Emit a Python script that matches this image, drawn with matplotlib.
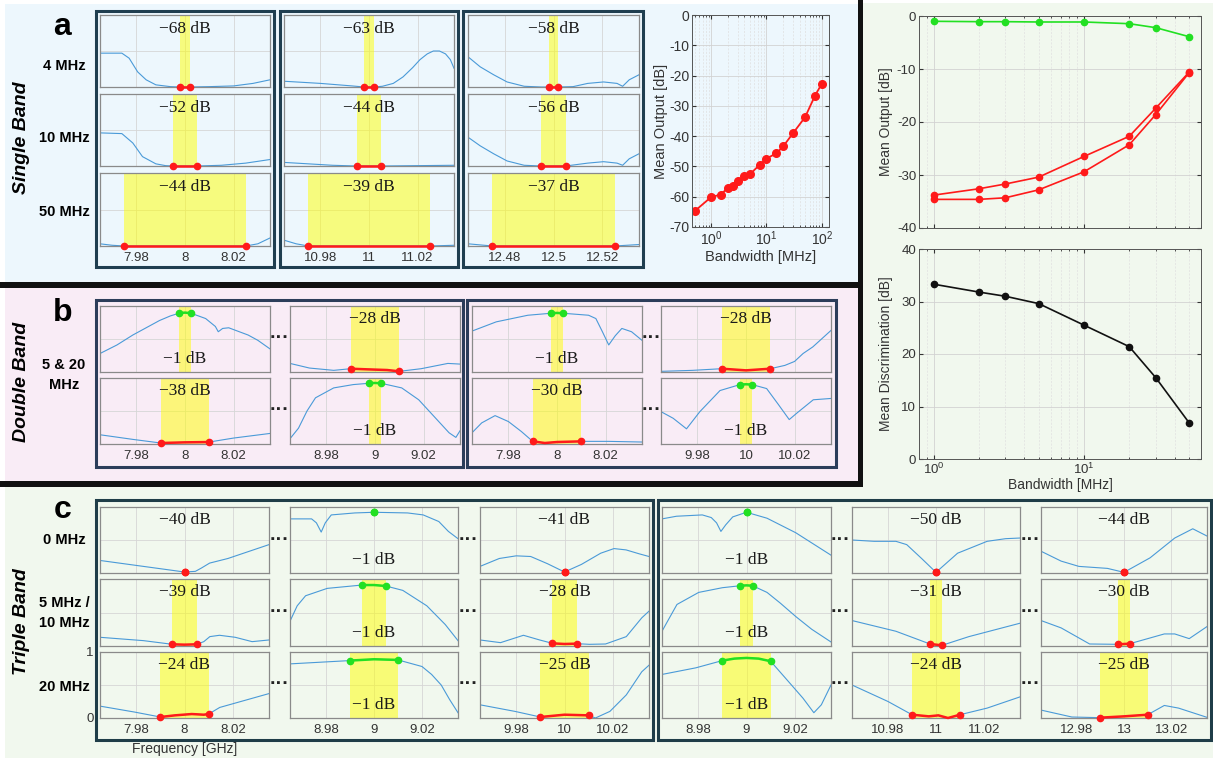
import numpy as np
import matplotlib
matplotlib.use("Agg")
import matplotlib.pyplot as plt
from matplotlib.patches import Rectangle

plt.rcParams["font.family"] = ["Liberation Sans", "DejaVu Sans"]
plt.rcParams["axes.unicode_minus"] = False

# ------------------------------------------------------------------
# Filter responses: (offset from band centre [MHz], normalised output)
# ------------------------------------------------------------------
# (a) single band
a_8_bw4 = ([-35, -26, -23, -19.5, -16, -12, -6, -2, 2, 10, 20, 28, 35],
           [0.47, 0.47, 0.40, 0.21, 0.10, 0.03, 0.005, 0, 0, 0.005, 0.015, 0.05, 0.10])
a_8_bw10 = ([-35, -26, -21.5, -17.5, -12, -8, -5, 5, 15, 25, 35],
            [0.46, 0.45, 0.32, 0.13, 0.03, 0.005, 0, 0, 0.01, 0.04, 0.09])
a_8_bw50 = ([-35, -30, -25, 0, 25, 30, 35],
            [0.03, 0.01, 0, 0, 0, 0.03, 0.11])
a_11_bw4 = ([-35, -20, -7, -2, 2, 5.5, 10, 14, 18, 21, 24, 26.5, 29, 31.5, 33.5, 35],
            [0.08, 0.05, 0.015, 0, 0, 0.01, 0.05, 0.14, 0.27, 0.38, 0.46, 0.50, 0.50, 0.46, 0.38, 0.26])
a_11_bw10 = ([-35, -25, -15, -5, 5, 20, 35],
             [0.05, 0.03, 0.01, 0, 0, 0.005, 0.01])
a_11_bw50 = ([-35, -30, -25, 25, 35],
             [0.08, 0.03, 0, 0, 0.01])
a_125_bw4 = ([-35, -30, -24.5, -19, -12, -5, -2, 2, 8, 14, 20.5, 26, 28.3, 31, 35],
             [0.42, 0.28, 0.17, 0.07, 0.01, 0, 0, 0, 0.005, 0.05, 0.07, 0.05, 0.01, 0.10, 0.17])
a_125_bw10 = ([-35, -30, -24.5, -19, -12, -5, 5, 14, 20.5, 26, 28.3, 31, 35],
              [0.40, 0.28, 0.17, 0.07, 0.01, 0, 0, 0.04, 0.06, 0.04, 0.01, 0.10, 0.17])
a_125_bw50 = ([-35, -25, 25, 35],
              [0.03, 0, 0, 0.02])

# (b) double band
b1_8_top = ([-35, -28, -21.5, -15, -10.5, -6, -2.5, 0, 2.5, 8.5, 12.5, 13.7, 15.5, 18, 26, 30, 35],
            [0.28, 0.41, 0.56, 0.69, 0.78, 0.85, 0.89, 0.90, 0.89, 0.81, 0.69, 0.61, 0.66, 0.67, 0.56, 0.48, 0.35])
b1_9_top = ([-35, -27, -17, -10, -3, 5, 10, 19, 30, 35],
            [0.13, 0.06, 0.025, 0.05, 0.04, 0.03, 0.01, 0.05, 0.13, 0.12])
b1_8_bot = ([-35, -21.5, -10, 0, 10, 20, 35],
            [0.14, 0.07, 0.015, 0.025, 0.03, 0.09, 0.16])
b1_9_bot = ([-35, -31.5, -28, -24.5, -17, -9, -2.5, 0, 2.5, 11, 18, 25, 30.5, 33.3, 35],
            [0.08, 0.24, 0.50, 0.70, 0.85, 0.90, 0.92, 0.925, 0.92, 0.85, 0.67, 0.39, 0.17, 0.10, 0.20])
b2_8_top = ([-35, -25, -12, -2.5, 0, 2.5, 13, 16, 18.7, 21.3, 24, 26.7, 30.7, 35],
            [0.62, 0.76, 0.86, 0.89, 0.895, 0.89, 0.86, 0.81, 0.61, 0.41, 0.55, 0.66, 0.61, 0.48])
b2_10_top = ([-35, -22, -10, 0, 10, 16, 20, 23.5, 27.5, 35],
             [0.01, 0.025, 0.05, 0.025, 0.05, 0.10, 0.16, 0.28, 0.38, 0.63])
b2_8_bot = ([-35, -31, -25.5, -20, -14.7, -10, -5, 0, 10, 21, 35],
            [0.17, 0.32, 0.43, 0.34, 0.19, 0.04, 0.015, 0.03, 0.04, 0.04, 0.03])
b2_10_bot = ([-35, -30, -24.5, -19, -10.7, -2.5, 0, 2.5, 8.5, 13.3, 17.8, 21, 27.7, 35],
             [0.49, 0.39, 0.23, 0.49, 0.81, 0.90, 0.905, 0.90, 0.84, 0.60, 0.37, 0.47, 0.67, 0.69])

# (c) triple band, first group (8 / 9 / 10 GHz)
c1_8_r1 = ([-35, -17, 0, 4.5, 7, 10.4, 18, 35],
           [0.19, 0.10, 0.015, 0.025, 0.075, 0.15, 0.22, 0.43])
c1_9_r1 = ([-35, -26, -24, -22, -20.3, -17.8, -8, 0, 14, 20.5, 27, 31, 35],
           [0.82, 0.82, 0.76, 0.62, 0.76, 0.88, 0.91, 0.92, 0.91, 0.88, 0.78, 0.63, 0.52])
c1_10_r1 = ([-35, -27, -20, -14, -7, 0, 7, 15, 20.5, 25.5, 31, 35],
            [0.10, 0.22, 0.26, 0.25, 0.14, 0.015, 0.13, 0.30, 0.37, 0.35, 0.29, 0.25])
c1_8_r2 = ([-35, -17, -5, 0, 5, 8, 10.5, 14.5, 21, 28, 35],
           [0.13, 0.08, 0.025, 0.02, 0.025, 0.065, 0.14, 0.16, 0.13, 0.065, 0.09])
c1_9_r2 = ([-35, -32, -28.5, -19.5, -5, 0, 5, 12, 22, 29.7, 35],
           [0.37, 0.60, 0.75, 0.86, 0.91, 0.91, 0.895, 0.83, 0.60, 0.32, 0.08])
c1_10_r2 = ([-35, -26.5, -17, -10.3, -5, 0, 5, 10.3, 17, 25.6, 32, 35],
            [0.09, 0.05, 0.16, 0.09, 0.04, 0.03, 0.035, 0.025, 0.03, 0.14, 0.42, 0.52])
c1_8_r3 = ([-35, -20.7, -10, -4, 3, 8, 10, 14.6, 35],
           [0.18, 0.09, 0.015, 0.04, 0.06, 0.05, 0.06, 0.16, 0.37])
c1_9_r3 = ([-35, -10, 0, 10, 20, 24, 28, 31.5, 35],
           [0.82, 0.87, 0.89, 0.88, 0.78, 0.66, 0.50, 0.28, 0.08])
c1_10_r3 = ([-35, -20.5, -10, 0, 10, 12.8, 18.8, 25.6, 32, 35],
            [0.20, 0.10, 0.015, 0.05, 0.04, 0.0, 0.10, 0.35, 0.70, 0.80])

# (c) triple band, second group (9 / 11 / 13 GHz)
c2_9_r1 = ([-35, -29, -18.3, -14.6, -12.4, -10.6, -8.6, -5.7, 0, 8.5, 20.4, 35],
           [0.82, 0.86, 0.88, 0.84, 0.76, 0.63, 0.73, 0.85, 0.92, 0.83, 0.61, 0.27])
c2_11_r1 = ([-35, -25.8, -16.7, -12.2, -6, 0, 9, 21.3, 29, 35],
            [0.50, 0.48, 0.48, 0.43, 0.22, 0.01, 0.30, 0.48, 0.52, 0.53])
c2_13_r1 = ([-35, -26.5, -19, -7, 0, 11, 21.4, 29, 35],
            [0.33, 0.18, 0.10, 0.07, 0.01, 0.23, 0.53, 0.67, 0.56])
c2_9_r2 = ([-35, -33, -28.8, -19.8, -10, -2.5, 0, 2.5, 8.5, 14, 20.4, 27, 35],
           [0.22, 0.35, 0.62, 0.80, 0.87, 0.90, 0.905, 0.90, 0.80, 0.64, 0.44, 0.25, 0.06])
c2_11_r2 = ([-35, -16.7, -2.5, 2.5, 13.7, 35],
            [0.38, 0.22, 0.03, 0.01, 0.14, 0.34])
c2_13_r2 = ([-35, -26.5, -14.5, -2.5, 2.5, 11, 17, 21.4, 27.5, 35],
            [0.38, 0.27, 0.03, 0.025, 0.035, 0.12, 0.18, 0.18, 0.11, 0.29])
c2_9_r3 = ([-35, -21, -10, -5, 0, 5, 10, 16, 23.4, 27.9, 31, 35],
           [0.66, 0.76, 0.87, 0.90, 0.91, 0.90, 0.86, 0.61, 0.30, 0.08, 0.20, 0.50])
c2_11_r3 = ([-35, -20, -10, -3, 1, 5, 10, 21.3, 35],
            [0.50, 0.25, 0.05, 0.025, 0.04, 0.0, 0.05, 0.15, 0.32])
c2_13_r3 = ([-35, -22, -10, 0, 10, 17, 23, 35],
            [0.12, 0.015, 0.005, 0.025, 0.05, 0.19, 0.15, 0.01])

# Band centres [GHz], window widths [MHz] and level labels
a_centers = [8, 11, 12.5]
a_bandwidths = [4, 10, 50]
a_row_labels = ["4 MHz", "10 MHz", "50 MHz"]
a_levels = [["−68 dB", "−52 dB", "−44 dB"],
            ["−63 dB", "−44 dB", "−39 dB"],
            ["−58 dB", "−56 dB", "−37 dB"]]
b_centers = [[8, 9], [8, 10]]
b_levels = [[["−1 dB", "−28 dB"], ["−38 dB", "−1 dB"]],
            [["−1 dB", "−28 dB"], ["−30 dB", "−1 dB"]]]
c_centers = [[8, 9, 10], [9, 11, 13]]
c_bandwidths = [[0, 10, 20], [0, 5, 20]]
c_row_labels = ["0 MHz", "5 MHz /\n10 MHz", "20 MHz"]
c_levels = [[["−40 dB", "−1 dB", "−41 dB"], ["−39 dB", "−1 dB", "−28 dB"], ["−24 dB", "−1 dB", "−25 dB"]],
            [["−1 dB", "−50 dB", "−44 dB"], ["−1 dB", "−31 dB", "−30 dB"], ["−1 dB", "−24 dB", "−25 dB"]]]

# Mean output vs. bandwidth, single band
a_bw = [0.5, 1, 1.5, 2, 2.5, 3, 4, 5, 7.5, 10, 15, 20, 30, 50, 75, 100]
a_mean = [-64.8, -60.1, -59.3, -57.0, -56.4, -54.8, -53.3, -52.6, -49.5,
          -47.4, -45.7, -43.4, -39.1, -33.7, -26.7, -22.7]

# Mean pass / stop outputs and discrimination, triple band
r_bw = [1, 2, 3, 5, 10, 20, 30, 50]
r_pass = [-1.0, -1.07, -1.07, -1.13, -1.13, -1.45, -2.2, -3.9]
r_stop_hi = [-33.8, -32.6, -31.7, -30.4, -26.5, -22.7, -17.4, -10.6]
r_stop_lo = [-34.6, -34.6, -34.3, -32.8, -29.4, -24.3, -18.6, -10.7]
r_disc = [33.3, 31.8, 31.0, 29.6, 25.5, 21.4, 15.5, 6.9]

# ------------------------------------------------------------------
BG_A, BG_B, BG_C = "#EDF7FD", "#F9ECF6", "#F1F8EE"
BLUE, RED, GREEN = "#4A9AD8", "#FF1A1A", "#22E022"
W, H = 1213, 758

fig = plt.figure(figsize=(W / 100, H / 100), dpi=100)
fig.patch.set_facecolor("white")


def px_axes(x0, y0, x1, y1):
    return fig.add_axes([x0 / W, 1 - y1 / H, (x1 - x0) / W, (y1 - y0) / H])


bg = px_axes(0, 0, W, H)
bg.set_xlim(0, W)
bg.set_ylim(H, 0)
bg.axis("off")
for (x, y, w, h, c) in [(5, 4, 855, 280, BG_A), (5, 286, 855, 197, BG_B),
                        (5, 485, 1208, 273, BG_C), (861, 3, 352, 484, BG_C)]:
    bg.add_patch(Rectangle((x, y), w, h, color=c, lw=0))
for (x, y, w, h) in [(0, 282, 860, 5.5), (858, 0, 5, 487), (0, 481, 863, 5.5)]:
    bg.add_patch(Rectangle((x, y), w, h, color="#111111", lw=0))
for (x0, y0, x1, y1, c) in [(96, 11, 274, 267, "#1F3E50"), (280, 11, 458, 267, "#1F3E50"),
                            (463, 11, 643, 267, "#1F3E50"),
                            (96, 300, 463, 467, "#2C3D5A"), (467, 300, 836, 467, "#2C3D5A"),
                            (96, 500, 653, 740, "#1F3D48"), (658, 500, 1211, 740, "#1F3D48")]:
    bg.add_patch(Rectangle((x0, y0), x1 - x0, y1 - y0, fill=False, ec=c, lw=2.2))

for (s, x, y) in [("a", 62, 27), ("b", 63, 313), ("c", 63, 510)]:
    bg.text(x, y, s, fontsize=23, fontweight="bold", ha="center", va="center")
for (s, y) in [("Single Band", 138), ("Double Band", 382), ("Triple Band", 622)]:
    bg.text(22, y, s, fontsize=14, fontweight="bold", style="italic",
            rotation=90, ha="center", va="center")
row_lab = dict(fontsize=10.5, fontweight="bold", ha="center", va="center",
               linespacing=1.5)
for s, y in zip(a_row_labels, [66, 138, 212]):
    bg.text(64, y, s, **row_lab)
bg.text(64, 375, "5 & 20\nMHz", **row_lab)
for s, y in zip(c_row_labels, [540, 613, 687]):
    bg.text(64, y, s, **row_lab)
bg.text(185, 749, "Frequency [GHz]", fontsize=10, color="#333333",
        ha="center", va="center")
for (x, y) in [(280, 339), (280, 411), (652, 339), (652, 411)] + \
              [(x, y) for x in (280, 469, 841, 1031) for y in (540, 612, 685)]:
    bg.text(x, y, "···", fontsize=14, fontweight="bold", ha="center",
            va="center", color="#222222")


def band_axes(x0, x1, y0, y1, center, trace, bw, kind, label, show_x,
              ylabels=False):
    ax = px_axes(x0, y0, x1, y1)
    ax.set_facecolor("none")
    ax.set_xlim(center - 0.035, center + 0.035)
    ax.set_ylim(0, 1)
    ticks = [round(center + d, 3) for d in (-0.02, 0.0, 0.02)]
    ax.set_xticks(ticks)
    ax.set_yticks([0, 0.5, 1])
    ax.set_axisbelow(True)
    ax.grid(True, color="#D6D6D6", lw=0.6)
    ax.tick_params(length=0, labelsize=9.5, colors="#333333", pad=4.5)
    ax.set_xticklabels([f"{t:g}" for t in ticks] if show_x else [])
    ax.set_yticklabels(["0", "", "1"] if ylabels else [])
    for s in ax.spines.values():
        s.set_color("#8A8A8A")
        s.set_linewidth(0.9)
    off = np.asarray(trace[0], float)
    val = np.asarray(trace[1], float)
    f = center + off / 1000.0
    if bw > 0:
        ax.axvspan(center - bw / 2000.0, center + bw / 2000.0,
                   color="#FFFF00", alpha=0.5, lw=0, zorder=1)
    ax.plot(f, val, color=BLUE, lw=0.8, zorder=2)
    sel = np.abs(off) <= bw / 2 + 1e-9
    col = GREEN if kind == "pass" else RED
    ax.plot(f[sel], val[sel], color=col, lw=1.8, zorder=3, clip_on=False)
    ends = np.flatnonzero(sel)[[0, -1]]
    ax.plot(f[ends], val[ends], "o", color=col, ms=4.5, zorder=4, clip_on=False)
    ax.text(0.5, 0.81 if kind == "stop" else 0.19, label,
            transform=ax.transAxes, ha="center", va="center",
            family=["Liberation Serif", "DejaVu Serif"], fontsize=12.5,
            color="#1A1A1A", zorder=5)
    return ax


# (a) single band grid
a_traces = [[a_8_bw4, a_8_bw10, a_8_bw50],
            [a_11_bw4, a_11_bw10, a_11_bw50],
            [a_125_bw4, a_125_bw10, a_125_bw50]]
a_cols = [(100, 270), (284, 454), (468, 639)]
a_rows = [(15, 87), (94, 166), (173, 246)]
for ci, (x0, x1) in enumerate(a_cols):
    for ri, (y0, y1) in enumerate(a_rows):
        band_axes(x0, x1, y0, y1, a_centers[ci], a_traces[ci][ri],
                  a_bandwidths[ri], "stop", a_levels[ci][ri], ri == 2)

# (b) double band
b_traces = [[[b1_8_top, b1_9_top], [b1_8_bot, b1_9_bot]],
            [[b2_8_top, b2_10_top], [b2_8_bot, b2_10_bot]]]
b_kinds = [["pass", "stop"], ["stop", "pass"]]
b_bws = [[5, 20], [20, 5]]
b_cols = [[(100, 270), (290, 460)], [(472, 642), (661, 831)]]
b_rows = [(306, 372), (378, 444)]
for g in range(2):
    for ri, (y0, y1) in enumerate(b_rows):
        for ci, (x0, x1) in enumerate(b_cols[g]):
            band_axes(x0, x1, y0, y1, b_centers[g][ci], b_traces[g][ri][ci],
                      b_bws[ri][ci], b_kinds[ri][ci], b_levels[g][ri][ci],
                      ri == 1)

# (c) triple band
c_traces = [[[c1_8_r1, c1_9_r1, c1_10_r1], [c1_8_r2, c1_9_r2, c1_10_r2],
             [c1_8_r3, c1_9_r3, c1_10_r3]],
            [[c2_9_r1, c2_11_r1, c2_13_r1], [c2_9_r2, c2_11_r2, c2_13_r2],
             [c2_9_r3, c2_11_r3, c2_13_r3]]]
c_pass_col = [1, 0]
c_cols = [[(100, 269), (290, 458), (480, 649)],
          [(662, 831), (852, 1020), (1041, 1207)]]
c_rows = [(507, 573), (579, 646), (652, 718)]
for g in range(2):
    for ri, (y0, y1) in enumerate(c_rows):
        for ci, (x0, x1) in enumerate(c_cols[g]):
            kind = "pass" if ci == c_pass_col[g] else "stop"
            band_axes(x0, x1, y0, y1, c_centers[g][ci], c_traces[g][ri][ci],
                      c_bandwidths[g][ri], kind, c_levels[g][ri][ci], ri == 2,
                      ylabels=(g == 0 and ri == 2 and ci == 0))


def matlab_style(ax, labelsize):
    ax.set_facecolor("none")
    ax.set_xscale("log")
    ax.grid(True, which="major", color="#D2D2D2", lw=0.6)
    ax.grid(True, which="minor", axis="x", color="#E0E0E0", lw=0.5,
            ls=(0, (3, 2)))
    ax.tick_params(which="both", direction="in", top=True, right=True,
                   labelsize=labelsize, colors="#333333", pad=2)
    ax.tick_params(which="major", length=3)
    ax.tick_params(which="minor", length=1.5)
    for s in ax.spines.values():
        s.set_color("#555555")
        s.set_linewidth(0.7)


# Mean output, single band
ax = px_axes(692, 15, 829, 227)
matlab_style(ax, 10)
ax.plot(a_bw, a_mean, "-o", color=RED, ms=5.5, lw=1.3)
ax.set_xlim(0.45, 135)
ax.set_ylim(-70, 0)
ax.set_yticks(range(-70, 1, 10))
ax.set_xlabel("Bandwidth [MHz]", fontsize=10.5, color="#333333", labelpad=1)
ax.set_ylabel("Mean Output [dB]", fontsize=10.5, color="#333333", labelpad=1)

# Mean pass / stop output, triple band
ax = px_axes(919, 16, 1201, 228)
matlab_style(ax, 9.5)
ax.plot(r_bw, r_pass, "-o", color=GREEN, ms=4.5, lw=1.2)
ax.plot(r_bw, r_stop_hi, "-o", color=RED, ms=4.5, lw=1.2)
ax.plot(r_bw, r_stop_lo, "-o", color=RED, ms=4.5, lw=1.2)
ax.set_xlim(0.8, 60)
ax.set_ylim(-40, 0)
ax.set_yticks(range(-40, 1, 10))
ax.tick_params(which="both", labelbottom=False)
ax.set_ylabel("Mean Output [dB]", fontsize=10, color="#333333", labelpad=3)

# Mean discrimination, triple band
ax = px_axes(919, 249, 1201, 459)
matlab_style(ax, 9.5)
ax.plot(r_bw, r_disc, "-o", color="#111111", ms=4.5, lw=1.2)
ax.set_xlim(0.8, 60)
ax.set_ylim(0, 40)
ax.set_yticks(range(0, 41, 10))
ax.set_xlabel("Bandwidth [MHz]", fontsize=10, color="#333333", labelpad=1)
ax.set_ylabel("Mean Discrimination [dB]", fontsize=10, color="#333333",
              labelpad=6)

fig.savefig("out.png", dpi=100)
